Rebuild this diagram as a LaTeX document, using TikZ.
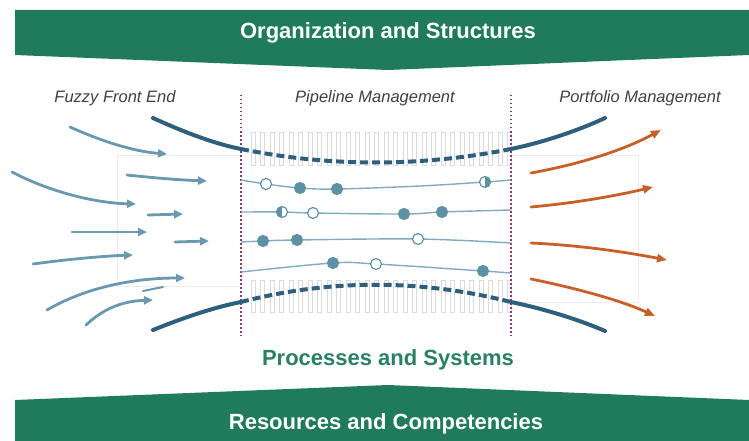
\documentclass[tikz,border=0pt]{standalone}
\usepackage{fontspec}
\setmainfont{Liberation Sans}
\usepackage{tikz}
\usetikzlibrary{arrows.meta}

\definecolor{bannergreen}{RGB}{31,123,92}
\definecolor{textgreen}{RGB}{42,128,100}
\definecolor{deepblue}{RGB}{46,96,125}
\definecolor{flowblue}{RGB}{106,153,175}
\definecolor{pipeblue}{RGB}{130,170,190}
\definecolor{dotblue}{RGB}{95,145,165}
\definecolor{outorange}{RGB}{200,95,40}
\definecolor{gatepurple}{RGB}{140,60,100}
\definecolor{labelgray}{RGB}{64,64,64}

\tikzset{
  banner/.style={fill=bannergreen, draw=none},
  bannertext/.style={text=white, font=\bfseries\fontsize{22}{26}\selectfont},
  phase/.style={text=labelgray, font=\itshape\fontsize{16.5}{19}\selectfont},
  gate/.style={gatepurple, line width=1.3pt, dash pattern=on 1.5pt off 2.5pt},
  wall/.style={deepblue, line width=4pt, line cap=round},
  wallgap/.style={deepblue, line width=4pt, dash pattern=on 8pt off 4pt},
  tooth/.style={draw=black!14, fill=white, line width=0.6pt},
  idea/.style={flowblue, line width=2.8pt, line cap=round, -{Triangle[length=9pt,width=8pt]}},
  launch/.style={outorange, line width=2.8pt, line cap=round, -{Triangle[length=10pt,width=8pt]}},
  pipe/.style={pipeblue, line width=1.4pt},
  dot/.style={circle, minimum size=11pt, inner sep=0pt, draw=dotblue, line width=1.2pt},
  full/.style={dot, fill=dotblue},
  open/.style={dot, fill=white},
  halfl/.style={dot, fill=white, path picture={\fill[dotblue] (path picture bounding box.south west) rectangle (path picture bounding box.north);}},
  halfr/.style={dot, fill=white, path picture={\fill[dotblue] (path picture bounding box.south) rectangle (path picture bounding box.north east);}},
}

\begin{document}
\begin{tikzpicture}[x=1pt, y=-1pt]
\useasboundingbox (0,0) rectangle (749,441);

% Background frames
\draw[black!8, line width=0.8pt] (117,155) rectangle (241,286);
\draw[black!8, line width=0.8pt] (511,155) rectangle (638,302);

% Comb of the pipeline walls
\foreach \i in {0,...,27} {
  \draw[tooth] (251+\i*9.5,132) rectangle +(4,33);
  \draw[tooth] (251+\i*9.5,280) rectangle +(4,32);
}

% Gates
\coordinate (g1t) at (241,95);  \coordinate (g1b) at (241,336);
\coordinate (g2t) at (511,95);  \coordinate (g2b) at (511,336);
\draw[gate] (g1t) -- (g1b);
\draw[gate] (g2t) -- (g2b);

% Funnel walls
\coordinate (wtl) at (153,118); \coordinate (wt1) at (241,149);
\coordinate (wt2) at (511,149); \coordinate (wtr) at (605,118);
\coordinate (wbl) at (153,330); \coordinate (wb1) at (241,302);
\coordinate (wb2) at (511,302); \coordinate (wbr) at (605,331);
\draw[wall] (wtl) .. controls (190,135) and (220,145) .. (wt1);
\draw[wallgap] (wt1) .. controls (330,167) and (420,167) .. (wt2);
\draw[wall] (wt2) .. controls (540,143) and (575,132) .. (wtr);
\draw[wall] (wbl) .. controls (190,315) and (220,306) .. (wb1);
\draw[wallgap] (wb1) .. controls (330,279) and (420,279) .. (wb2);
\draw[wall] (wb2) .. controls (540,308) and (575,318) .. (wbr);

% Projects in the pipeline
\coordinate (p1s) at (241,180); \coordinate (p1a) at (266,184); \coordinate (p1b) at (300,188);
\coordinate (p1c) at (337,189); \coordinate (p1m) at (420,186); \coordinate (p1d) at (485,182);
\coordinate (p1e) at (511,180);
\coordinate (p2s) at (241,212); \coordinate (p2a) at (282,212); \coordinate (p2b) at (313,213);
\coordinate (p2c) at (404,214); \coordinate (p2d) at (442,212); \coordinate (p2e) at (511,210);
\coordinate (p3s) at (241,242); \coordinate (p3a) at (263,241); \coordinate (p3b) at (297,240);
\coordinate (p3c) at (418,239); \coordinate (p3e) at (511,243);
\coordinate (p4s) at (241,272); \coordinate (p4a) at (333,263); \coordinate (p4b) at (376,264);
\coordinate (p4c) at (483,271); \coordinate (p4e) at (511,273);

\draw[pipe] plot[smooth, tension=0.6] coordinates {(p1s) (p1a) (p1b) (p1c) (p1m) (p1d) (p1e)};
\draw[pipe] plot[smooth, tension=0.6] coordinates {(p2s) (p2a) (p2b) (p2c) (p2d) (p2e)};
\draw[pipe] plot[smooth, tension=0.6] coordinates {(p3s) (p3a) (p3b) (p3c) (p3e)};
\draw[pipe] plot[smooth, tension=0.6] coordinates {(p4s) (p4a) (p4b) (p4c) (p4e)};

\node[open]  (d1a) at (p1a) {};
\node[full]  (d1b) at (p1b) {};
\node[full]  (d1c) at (p1c) {};
\node[halfr] (d1d) at (p1d) {};
\node[halfl] (d2a) at (p2a) {};
\node[open]  (d2b) at (p2b) {};
\node[full]  (d2c) at (p2c) {};
\node[full]  (d2d) at (p2d) {};
\node[full]  (d3a) at (p3a) {};
\node[full]  (d3b) at (p3b) {};
\node[open]  (d3c) at (p3c) {};
\node[full]  (d4a) at (p4a) {};
\node[open]  (d4b) at (p4b) {};
\node[full]  (d4c) at (p4c) {};

% Ideas entering
\draw[idea] (70,127) .. controls (110,145) and (140,152) .. (167,154);
\draw[idea] (12,172) .. controls (50,192) and (95,203) .. (136,204);
\draw[idea] (127,175) .. controls (155,178) and (180,180) .. (207,181);
\draw[idea] (148,215) -- (183,214);
\draw[idea] (72,232) -- (147,232);
\draw[idea] (175,242) -- (209,241);
\draw[idea] (33,264) .. controls (70,259) and (105,256) .. (133,255);
\draw[idea] (47,310) .. controls (90,285) and (140,278) .. (185,278);
\draw[idea] (86,325) .. controls (105,307) and (125,301) .. (153,300);
\draw[flowblue, line width=2pt, line cap=round] (143,291) -- (163,287);

% Products leaving
\draw[launch] (531,173) .. controls (575,165) and (620,152) .. (661,130);
\draw[launch] (531,207) .. controls (575,203) and (615,196) .. (653,187);
\draw[launch] (531,243) .. controls (575,245) and (620,251) .. (667,260);
\draw[launch] (531,279) .. controls (575,288) and (620,300) .. (655,316);

% Banners
\fill[banner] (15,10) -- (749,10) -- (749,55) -- (388,70) -- (15,55) -- cycle;
\fill[banner] (15,441) -- (15,400) -- (388,385) -- (749,400) -- (749,441) -- cycle;
\node[bannertext] (org) at (388,33) {Organization and Structures};
\node[bannertext] (res) at (386,424) {Resources and Competencies};
\node[text=textgreen, font=\bfseries\fontsize{22}{26}\selectfont] (proc) at (388,360) {Processes and Systems};

% Phases
\node[phase] (ffe) at (115,98) {Fuzzy Front End};
\node[phase] (pm)  at (375,98) {Pipeline Management};
\node[phase] (pfm) at (640,98) {Portfolio Management};

\end{tikzpicture}
\end{document}
